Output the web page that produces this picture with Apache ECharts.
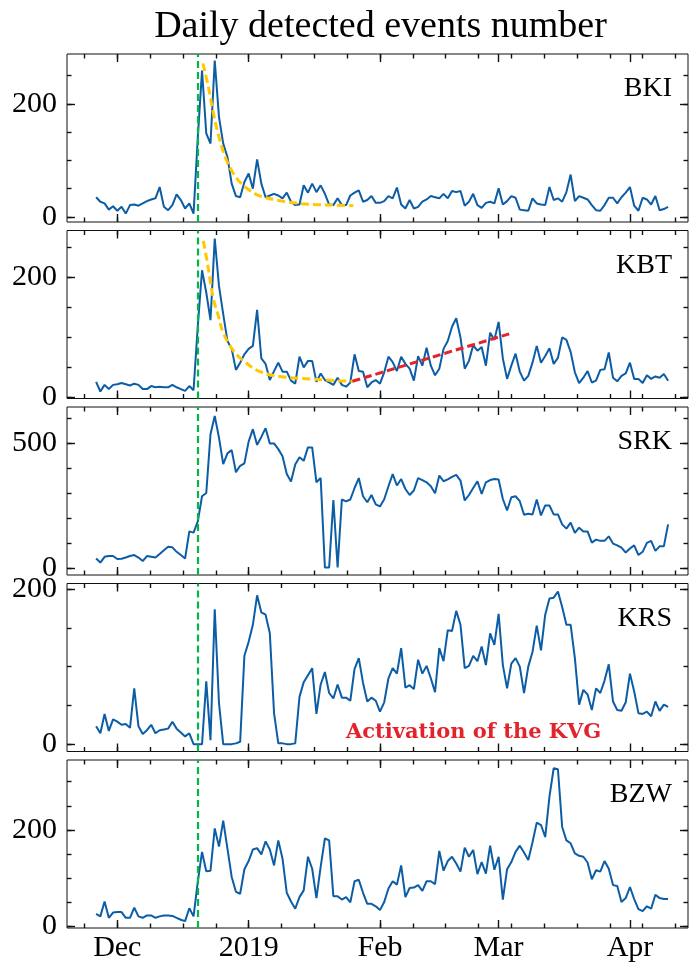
<!DOCTYPE html>
<html><head><meta charset="utf-8">
<script src="https://cdn.jsdelivr.net/npm/echarts@6/dist/echarts.min.js"></script>
<style>html,body{margin:0;padding:0;background:#fff}#c{width:689px;height:963px}</style>
</head><body><div id="c"></div>
<script>
// Day numbers: 0 = 1 Dec 2018. First sample is 26 Nov 2018 (day -5), one value per day.
const firstDay = -5;
const stations = ['BKI', 'KBT', 'SRK', 'KRS', 'BZW'];

const bki = [35,27,24,13,19,
  11,18,6,21,22,20,24,28,31,33,
  53,18,12,21,40,30,15,24,6,140,
  259,148,130,277,177,130,106,59,37,35,
  62,77,50,102,59,35,38,41,38,33,
  43,27,21,22,56,43,59,44,56,41,
  22,21,33,21,21,38,43,47,27,30,
  37,25,25,28,37,33,52,22,15,30,
  15,18,27,31,37,35,33,41,33,46,
  44,46,20,27,41,21,16,25,27,24,
  51,22,28,37,34,13,12,11,33,24,
  22,21,53,30,33,27,44,75,28,37,
  34,31,21,12,11,21,34,34,24,35,
  43,53,20,11,34,31,22,37,12,14,18];

const kbt = [26,10,21,14,21,
  22,24,22,20,23,21,14,14,19,17,
  18,17,17,21,17,14,11,19,12,119,
  212,175,129,265,186,139,94,81,46,58,
  72,81,86,146,65,56,29,44,58,43,
  43,28,23,68,50,61,61,26,40,29,
  25,21,33,21,18,25,72,44,43,17,
  25,29,23,42,68,59,44,68,56,48,
  28,69,53,83,53,37,48,81,94,118,
  132,100,48,61,87,78,84,53,108,96,
  126,65,31,53,73,43,28,36,58,86,
  58,69,82,56,66,100,96,76,42,24,
  33,44,25,28,46,47,75,33,27,36,
  40,58,31,31,24,37,31,35,33,39,28];

const srk = [37,21,44,47,47,
  35,36,41,47,51,41,27,47,44,41,
  55,70,84,82,64,51,37,146,141,186,
  287,300,536,609,522,416,459,472,383,409,
  419,506,556,493,525,560,499,499,476,447,
  376,346,414,443,429,483,483,343,360,1,
  1,272,1,274,266,274,320,360,287,263,
  292,254,246,275,327,376,330,356,316,292,
  310,360,352,343,327,299,370,347,355,365,
  373,350,270,292,320,347,296,343,352,356,
  354,276,230,283,287,267,213,217,214,274,
  210,250,250,214,214,174,157,181,140,161,
  146,146,101,113,108,108,126,97,90,81,
  61,77,90,51,64,100,108,68,86,86,174];

const krs = [23,14,39,17,32,
  29,25,26,21,72,23,13,18,25,14,
  18,19,20,29,20,15,10,14,0,0,
  0,81,5,174,53,0,0,0,1,3,
  114,132,154,192,170,167,143,40,1,1,
  0,0,1,61,80,89,98,39,77,93,
  66,59,77,60,60,56,97,111,79,55,
  60,56,42,54,85,98,91,124,73,76,
  71,109,91,101,85,67,124,107,147,146,
  172,154,98,101,114,107,126,102,143,128,
  168,102,72,104,111,100,66,100,119,153,
  121,167,188,189,197,177,154,154,111,51,
  70,64,44,72,66,82,103,55,44,43,
  54,91,68,40,39,42,36,55,43,51,48];

const bzw = [25,20,51,17,28,
  29,29,17,17,38,20,17,22,22,17,
  20,22,22,21,17,13,10,37,20,92,
  154,114,115,203,165,219,161,102,71,67,
  118,135,159,162,149,176,159,126,178,140,
  69,51,36,60,74,144,119,58,123,182,
  178,62,62,55,60,49,93,96,69,46,
  46,41,33,50,78,93,86,126,60,79,
  80,85,73,93,93,87,156,115,135,144,
  130,113,163,144,158,108,133,109,167,117,
  144,55,118,133,154,167,153,137,174,215,
  210,185,269,328,326,206,178,172,151,146,
  144,132,97,116,113,135,119,85,83,50,
  58,81,56,35,31,41,36,65,58,56,56];

// Fitted decay curves and KBT linear trend
const bkiFitDays = [20.2,21.5,22.7,24.2,25.8,27.4,29.3,31.3,33.7,37.6,41.6,46.3,51,55.7];
const bkiFit     = [272,230,183,136,100,77,59,47,37,30,25,22,21,20];
const kbtFitDays = [20.3,21.1,22.7,23.85,25,27.4,29.8,33.7,38.4,45.5,51.8,55.7];
const kbtFit     = [261,231,164,136,108,78,61,43,35,31,28,27];
const kbtTrendDays = [55.5, 92.5];
const kbtTrend     = [27, 106];

const eventDay = 19; // 20 Dec 2018

// Axis ticks
const monthTicks  = [0, 31, 62, 90, 121];
const monthLabels = ['Dec', '2019', 'Feb', 'Mar', 'Apr'];
const minorTicksX = [-7.75,0,7.75,15.5,23.25,31,38.75,46.5,54.25,62,69.75,77.5,85.25,93,100.75,108.5,116.25,124,131.75];
const yRanges = [[-8.9,288.5],[-1.7,278.3],[-29,645],[-9.5,207.3],[-4.2,345.2]];
const yMajor  = [[0,200],[0,200],[0,500],[0,200],[0,200]];
const yMinor  = [[0,50,100,150,200,250],[0,50,100,150,200,250],[0,100,200,300,400,500,600],[0,50,100,150,200],[0,50,100,150,200,250,300]];
const xMin = -11.87, xMax = 134.7;

const F = '"Liberation Serif", "DejaVu Serif", serif';
const INK = '#111';
const seriesData = [bki, kbt, srk, krs, bzw];
const grids = [], xAxes = [], yAxes = [], series = [], graphics = [];

for (let i = 0; i < 5; i++) {
  const top = 54 + i * 176.5;
  grids.push({left: 67, width: 621, top: top, height: 168, show: true,
    borderColor: INK, borderWidth: 1, backgroundColor: 'transparent'});
  const xb = {type: 'value', gridIndex: i, min: xMin, max: xMax,
    splitLine: {show: false}, axisLine: {show: false, onZero: false}};
  const tickStyle = {color: INK, width: 1.4};
  xAxes.push(Object.assign({}, xb, {position: 'bottom',
    axisTick: {show: true, inside: true, length: 8, customValues: monthTicks, lineStyle: tickStyle},
    axisLabel: {show: i === 4, customValues: monthTicks, margin: 5,
      formatter: function (v) { let k = 0, b = 1e9; monthTicks.forEach((t, j) => { if (Math.abs(t - v) < b) { b = Math.abs(t - v); k = j; } }); return monthLabels[k]; },
      fontFamily: F, fontSize: 30, color: '#000'}}));
  xAxes.push(Object.assign({}, xb, {position: 'bottom',
    axisTick: {show: true, inside: true, length: 4.5, customValues: minorTicksX, lineStyle: tickStyle},
    axisLabel: {show: false}}));
  xAxes.push(Object.assign({}, xb, {position: 'top',
    axisTick: {show: true, inside: true, length: 8, customValues: monthTicks, lineStyle: tickStyle},
    axisLabel: {show: false}}));
  xAxes.push(Object.assign({}, xb, {position: 'top',
    axisTick: {show: true, inside: true, length: 4.5, customValues: minorTicksX, lineStyle: tickStyle},
    axisLabel: {show: false}}));

  const yb = {type: 'value', gridIndex: i, min: yRanges[i][0], max: yRanges[i][1],
    splitLine: {show: false}, axisLine: {show: false, onZero: false}};
  yAxes.push(Object.assign({}, yb, {position: 'left',
    axisTick: {show: true, inside: true, length: 8, customValues: yMajor[i], lineStyle: tickStyle},
    axisLabel: {show: true, customValues: yMajor[i], margin: 10, fontFamily: F, fontSize: 30, color: '#000'}}));
  yAxes.push(Object.assign({}, yb, {position: 'left',
    axisTick: {show: true, inside: true, length: 4.5, customValues: yMinor[i], lineStyle: tickStyle},
    axisLabel: {show: false}}));
  yAxes.push(Object.assign({}, yb, {position: 'right',
    axisTick: {show: true, inside: true, length: 8, customValues: yMajor[i], lineStyle: tickStyle},
    axisLabel: {show: false}}));
  yAxes.push(Object.assign({}, yb, {position: 'right',
    axisTick: {show: true, inside: true, length: 4.5, customValues: yMinor[i], lineStyle: tickStyle},
    axisLabel: {show: false}}));

  series.push({type: 'line', xAxisIndex: 4 * i, yAxisIndex: 4 * i, z: 2,
    data: seriesData[i].map((v, k) => [firstDay + k, v]),
    symbol: 'none', showSymbol: false, lineStyle: {color: '#0C5DA5', width: 2},
    markLine: {symbol: 'none', silent: true, label: {show: false}, animation: false,
      lineStyle: {color: '#00B945', type: [7, 4], width: 2.2}, data: [{xAxis: eventDay}]}});

  graphics.push({type: 'text', x: 672, y: top + 35, z: 10,
    style: {text: stations[i], align: 'right', verticalAlign: 'middle', fontSize: 28, fontFamily: F, fill: '#000'}});
}

series.push({type: 'line', xAxisIndex: 0, yAxisIndex: 0, z: 3, smooth: 0.4,
  data: bkiFitDays.map((d, k) => [d, bkiFit[k]]), symbol: 'none',
  lineStyle: {color: '#FFC800', width: 3, type: [8, 4]}});
series.push({type: 'line', xAxisIndex: 4, yAxisIndex: 4, z: 3, smooth: 0.4,
  data: kbtFitDays.map((d, k) => [d, kbtFit[k]]), symbol: 'none',
  lineStyle: {color: '#FFC800', width: 3, type: [8, 4]}});
series.push({type: 'line', xAxisIndex: 4, yAxisIndex: 4, z: 3,
  data: kbtTrendDays.map((d, k) => [d, kbtTrend[k]]), symbol: 'none',
  lineStyle: {color: '#E3232C', width: 3, type: [8, 4]}});

graphics.push({type: 'text', x: 380.5, y: 27, z: 10,
  style: {text: 'Daily detected events number', align: 'center', verticalAlign: 'middle', fontSize: 38, fontFamily: F, fill: '#000'}});
graphics.push({type: 'text', x: 346, y: 733, z: 10,
  style: {text: 'Activation of the KVG', align: 'left', verticalAlign: 'middle', fontSize: 21, fontWeight: 'bold', fontFamily: '"DejaVu Serif", serif', fill: '#E3232C'}});

const chart = echarts.init(document.getElementById('c'), null, {renderer: 'canvas'});
chart.setOption({
  animation: false,
  backgroundColor: '#fff',
  grid: grids, xAxis: xAxes, yAxis: yAxes, series: series, graphic: graphics
});
</script></body></html>
